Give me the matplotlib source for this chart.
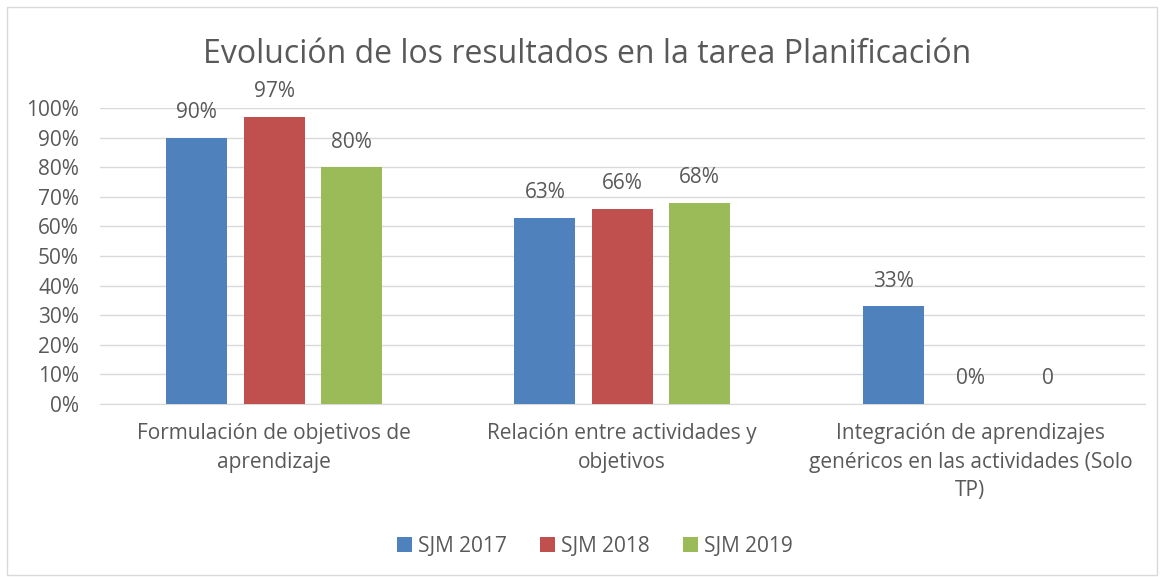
import numpy as np
import matplotlib.pyplot as plt
from matplotlib.patches import Rectangle

categories = ['Formulación de objetivos de\naprendizaje',
              'Relación entre actividades y\nobjetivos',
              'Integración de aprendizajes\ngenéricos en las actividades (Solo\nTP)']
series = ['SJM 2017', 'SJM 2018', 'SJM 2019']
values_2017 = [0.90, 0.63, 0.33]
values_2018 = [0.97, 0.66, 0.0]
values_2019 = [0.80, 0.68, 0.0]
labels_2017 = ['90%', '63%', '33%']
labels_2018 = ['97%', '66%', '0%']
labels_2019 = ['80%', '68%', '0']
colors = ['#4f81bd', '#c0504d', '#9bbb59']

plt.rcParams['font.family'] = ['Open Sans', 'DejaVu Sans']
txt = '#595959'
fs = 15

fig = plt.figure(figsize=(11.62, 5.77), dpi=100)
ax = fig.add_axes([0.086, 0.2998, 0.899, 0.513])

x = np.arange(len(categories))
width = 0.175
offs = [-0.222, 0, 0.222]
all_vals = [values_2017, values_2018, values_2019]
all_labels = [labels_2017, labels_2018, labels_2019]

for i in range(3):
    bars = ax.bar(x + offs[i], all_vals[i], width, color=colors[i], label=series[i], zorder=3)
    for b, lab in zip(bars, all_labels[i]):
        ax.text(b.get_x() + b.get_width() / 2, b.get_height() + 0.085, lab,
                ha='center', va='center', fontsize=fs, color=txt)

ax.set_xlim(-0.5, 2.5)
ax.set_ylim(0, 1.0)
ax.set_yticks(np.arange(0, 1.01, 0.1))
ax.set_yticklabels([f'{int(round(v*100))}%' for v in np.arange(0, 1.01, 0.1)])
ax.set_xticks(x)
ax.set_xticklabels(categories, fontsize=fs, color=txt, linespacing=1.45)
ax.tick_params(axis='y', labelsize=fs, labelcolor=txt, length=0, pad=15)
ax.tick_params(axis='x', length=0, pad=14)
ax.grid(axis='y', color='#d9d9d9', linewidth=1, zorder=0)
for s in ['top', 'right', 'left']:
    ax.spines[s].set_visible(False)
ax.spines['bottom'].set_color('#d9d9d9')

fig.text(0.505, 0.906, 'Evolución de los resultados en la tarea Planificación',
         ha='center', va='center', fontsize=23, color=txt)

leg = fig.legend(loc='center', bbox_to_anchor=(0.512, 0.053), ncol=3, frameon=False,
                 fontsize=fs, handlelength=0.7, handleheight=0.7, columnspacing=1.6,
                 handletextpad=0.3, labelcolor=txt)

fig.add_artist(Rectangle((0.006, 0.004), 0.99, 0.984, transform=fig.transFigure,
                         fill=False, edgecolor='#d9d9d9', linewidth=1))

fig.savefig('out.png', dpi=100)
